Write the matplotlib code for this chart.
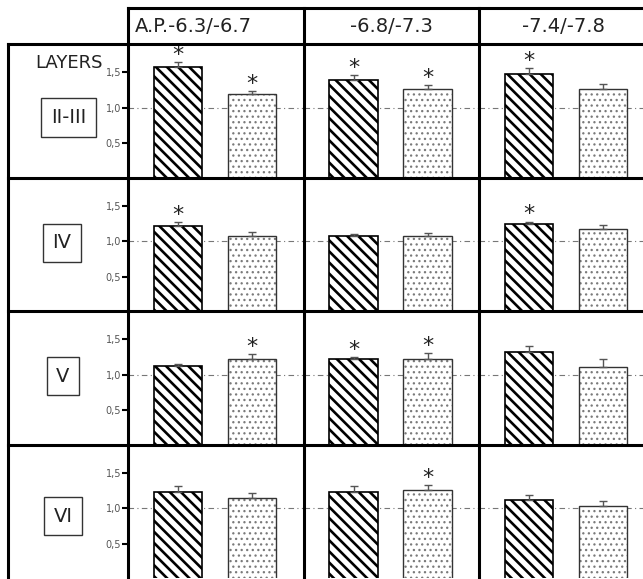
import matplotlib
matplotlib.use("Agg")
import matplotlib.pyplot as plt
from matplotlib.lines import Line2D

# table layout: layers are rows, A.P. ranges are columns
layers = ["II-III", "IV", "V", "VI"]
ap_ranges = ["A.P.-6.3/-6.7", "-6.8/-7.3", "-7.4/-7.8"]
y_ticks = [0.5, 1.0, 1.5]
y_tick_labels = ["0,5", "1,0", "1,5"]

# striped bars (rows = layers, cols = A.P. ranges)
striped_mean = [[1.58, 1.39, 1.48],
                [1.22, 1.07, 1.25],
                [1.13, 1.22, 1.32],
                [1.23, 1.23, 1.12]]
striped_err = [[0.07, 0.07, 0.08],
               [0.05, 0.03, 0.03],
               [0.03, 0.03, 0.09],
               [0.08, 0.08, 0.07]]
striped_sig = [[1, 1, 1],
               [1, 0, 1],
               [0, 1, 0],
               [0, 0, 0]]

# dotted bars
dotted_mean = [[1.19, 1.26, 1.26],
               [1.08, 1.08, 1.17],
               [1.23, 1.22, 1.11],
               [1.15, 1.26, 1.04]]
dotted_err = [[0.05, 0.06, 0.08],
              [0.05, 0.04, 0.06],
              [0.07, 0.09, 0.11],
              [0.06, 0.07, 0.06]]
dotted_sig = [[1, 1, 0],
              [0, 0, 0],
              [1, 1, 0],
              [0, 1, 0]]

W, H = 643, 579
fig = plt.figure(figsize=(W / 100, H / 100), dpi=100)

col_x = [128, 303.5, 479]
col_w = 175.5
row_y = [44, 177.5, 311, 444.5]
row_h = 133.5


def px_axes(x, y, w, h, **kw):
    return fig.add_axes([x / W, 1 - (y + h) / H, w / W, h / H], **kw)


def set_hlw(patch, lw):
    if hasattr(patch, "set_hatch_linewidth"):
        patch.set_hatch_linewidth(lw)


txt_col = "#222222"

for r in range(len(layers)):
    for c in range(len(ap_ranges)):
        ax = px_axes(col_x[c], row_y[r], col_w, row_h)
        ax.set_xlim(-0.676, 1.696)
        ax.set_ylim(0.02, 1.90)
        for s in ax.spines.values():
            s.set_visible(False)
        ax.set_xticks([])
        ax.patch.set_alpha(0)

        ax.axhline(1.0, color="#777777", lw=0.8,
                   linestyle=(0, (5, 3, 1, 3)), zorder=1)

        # striped bar
        b1 = ax.bar(0, striped_mean[r][c], width=0.65, color="white",
                    edgecolor="black", linewidth=1.2, hatch="\\\\\\", zorder=2)
        for p in b1:
            set_hlw(p, 1.9)
        # dotted bar: grey dots, then dark outline
        b2 = ax.bar(1, dotted_mean[r][c], width=0.65, color="white",
                    edgecolor="#7a7a7a", linewidth=0, hatch="...", zorder=2)
        for p in b2:
            set_hlw(p, 0.9)
        ax.bar(1, dotted_mean[r][c], width=0.65, fill=False,
               edgecolor="#333333", linewidth=1.0, zorder=2.5)

        ax.errorbar([0, 1], [striped_mean[r][c], dotted_mean[r][c]],
                    yerr=[[0, 0], [striped_err[r][c], dotted_err[r][c]]],
                    fmt="none", ecolor="#555555", elinewidth=1.0,
                    capsize=3, capthick=1.0, zorder=3)

        for xi, m, e, sg in [(0, striped_mean[r][c], striped_err[r][c], striped_sig[r][c]),
                             (1, dotted_mean[r][c], dotted_err[r][c], dotted_sig[r][c])]:
            if sg:
                ax.text(xi, m + e + 0.10, "*", ha="center", va="center",
                        fontsize=16, color=txt_col, zorder=4)

        if c == 0:
            ax.set_yticks(y_ticks)
            ax.set_yticklabels(y_tick_labels)
            ax.tick_params(axis="y", direction="out", length=4, width=1.5,
                           color="black", labelsize=7, labelcolor="#555555",
                           pad=1)
        else:
            ax.set_yticks([])

# grid lines of the table and the text cells
ov = fig.add_axes([0, 0, 1, 1], zorder=10)
ov.set_xlim(0, W)
ov.set_ylim(H, 0)
ov.axis("off")
ov.patch.set_alpha(0)

lw_grid = 2.2
ov.add_line(Line2D([128, W], [7.5, 7.5], color="black", lw=lw_grid))
for y in row_y:
    ov.add_line(Line2D([7.5, W], [y, y], color="black", lw=lw_grid))
ov.add_line(Line2D([7.5, 7.5], [44, H], color="black", lw=lw_grid))
for x in col_x:
    ov.add_line(Line2D([x, x], [7.5, H], color="black", lw=lw_grid))

header_x = [135, 391, 563]
header_ha = ["left", "center", "center"]
for c, lab in enumerate(ap_ranges):
    ov.text(header_x[c], 27, lab, ha=header_ha[c], va="center",
            fontsize=14, color=txt_col)

ov.text(35, 63, "LAYERS", ha="left", va="center", fontsize=13, color=txt_col)

box_pos = [(68.5, 117.5), (62, 243), (63, 376), (63, 516)]
for (bx, by), lab in zip(box_pos, layers):
    ov.text(bx, by, lab, ha="center", va="center", fontsize=14, color=txt_col,
            bbox=dict(boxstyle="square,pad=0.5", fc="white",
                      ec="#333333", lw=1.0))

fig.savefig("out.png", dpi=100)
